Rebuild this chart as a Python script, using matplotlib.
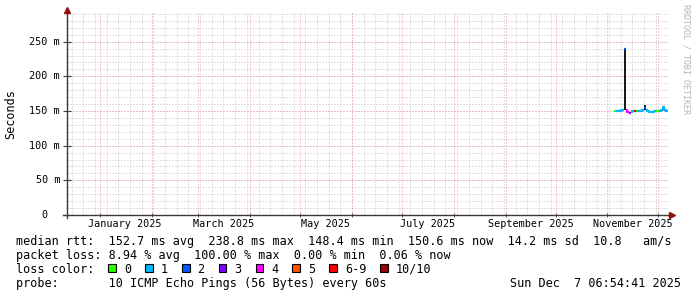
import numpy as np
import pandas as pd
import matplotlib
matplotlib.use('Agg')
import matplotlib.pyplot as plt
import matplotlib.dates as mdates
import matplotlib.transforms as mtransforms
from matplotlib.patches import Rectangle

W, H = 697, 297
MONO = 'DejaVu Sans Mono'

# период графика: последние 360 дней
t_end = pd.Timestamp('2025-12-07 06:54:41')
t_start = t_end - pd.Timedelta(days=360)

# медиана rtt (мс) по дням и класс потерь
days = pd.date_range('2025-11-05', '2025-12-06', freq='D')
median_ms = [149.5, 149.5, 149.5, 150.0, 151.0, 151.5, 240.0, 151.5, 148.0, 147.0,
             148.0, 149.5, 150.0, 150.0, 149.5, 150.0, 150.0, 151.0, 155.0, 151.0,
             149.5, 149.0, 149.0, 149.0, 149.5, 149.5, 150.0, 150.0, 152.0, 156.0,
             151.0, 150.6]
loss_class = [0, 1, 1, 1, 1, 1, 2, 4, 4, 3,
              1, 1, 6, 0, 1, 1, 1, 1, 2, 1,
              1, 1, 1, 1, 1, 0, 0, 1, 1, 1,
              1, 1]

# "дым" (разброс пингов)
smoke_days = ['2025-11-11', '2025-11-23', '2025-12-04']
smoke_lo = [151.0, 152.0, 151.0]
smoke_hi = [240.0, 158.0, 157.0]

loss_labels = ['0', '1', '2', '3', '4', '5', '6-9', '10/10']
loss_colors = ['#26ff00', '#00b8ff', '#0059ff', '#7e00ff', '#ff00ff', '#ff5500', '#ff0000', '#a00000']

y_major = [0, 50, 100, 150, 200, 250]
y_minor = list(range(0, 300, 10))
label_months = ['2025-01-16', '2025-03-16', '2025-05-16', '2025-07-16', '2025-09-16', '2025-11-16']
label_texts = ['January 2025', 'March 2025', 'May 2025', 'July 2025', 'September 2025', 'November 2025']

legend_lines = [
    'median rtt:  152.7 ms avg  238.8 ms max  148.4 ms min  150.6 ms now  14.2 ms sd  10.8   am/s',
    'packet loss: 8.94 % avg  100.00 % max  0.00 % min  0.06 % now',
]
probe_text = 'probe:       10 ICMP Echo Pings (56 Bytes) every 60s'
stamp_text = 'Sun Dec  7 06:54:41 2025'

GRID = '#c4c4c4'
MGRID = '#ec9c9c'
AXIS = '#3a3a3a'
ARROW = '#9a0d0d'

fig = plt.figure(figsize=(W / 100, H / 100), dpi=100)
fig.patch.set_facecolor('white')
ax_h = 201.8
ax = fig.add_axes([67 / W, 82 / H, 601 / W, ax_h / H])
for s in ax.spines.values():
    s.set_visible(False)

x0, x1 = mdates.date2num(t_start), mdates.date2num(t_end)
ax.set_xlim(x0, x1)
ax.set_ylim(0, 291)

# сетка
weeks = pd.date_range(t_start.normalize(), t_end, freq='W-SUN')
months = pd.date_range(t_start.normalize(), t_end, freq='MS')
dots = (0, (1, 2))
for d in weeks:
    ax.axvline(mdates.date2num(d), color=GRID, lw=0.72, ls=dots, zorder=0)
for v in y_minor:
    ax.axhline(v, color=GRID, lw=0.72, ls=dots, zorder=0)
for d in months:
    ax.axvline(mdates.date2num(d), color=MGRID, lw=0.72, ls=dots, zorder=0.5)
for v in y_major[1:]:
    ax.axhline(v, color=MGRID, lw=0.72, ls=dots, zorder=0.5)

# дым
sx = mdates.date2num(pd.to_datetime(smoke_days))
ax.bar(sx, np.array(smoke_hi) - np.array(smoke_lo), bottom=smoke_lo, width=1.2,
       align='edge', color='#1a1a1a', lw=0, zorder=2)

# медиана, раскрашенная по потерям
xs = mdates.date2num(days)
xs = np.append(xs, xs[-1] + 1)
vals = np.append(np.array(median_ms), median_ms[-1])
cls = np.append(np.array(loss_class), loss_class[-1])
for k, c in enumerate(loss_colors):
    y = np.where(cls == k, vals, np.nan)
    if np.all(np.isnan(y)):
        continue
    ax.plot(xs, y, drawstyle='steps-post', color=c, lw=1.6, zorder=3, solid_capstyle='butt')

# подписи осей
ax.set_xticks(mdates.date2num(pd.to_datetime(label_months)))
ax.set_xticklabels(label_texts, fontfamily=MONO, fontsize=7.3)
ax.tick_params(axis='x', which='major', length=0, pad=3)
ax.set_xticks(mdates.date2num(months), minor=True)
ax.tick_params(axis='x', which='minor', direction='inout', length=3, width=0.6, color=AXIS)

ax.set_yticks(y_major)
ax.set_yticklabels([''] * len(y_major))
ax.set_yticks(y_minor, minor=True)
ax.tick_params(axis='y', which='major', direction='inout', length=6, width=0.8, color=AXIS)
ax.tick_params(axis='y', which='minor', direction='inout', length=2, width=0.4, color='#888888')

adv_tick = 0.602 * 7.3 * 100 / 72
ytrans = ax.get_yaxis_transform()
for v in y_major:
    if v == 0:
        tr = mtransforms.offset_copy(ytrans, fig=fig, x=-7 - 2 * adv_tick, y=0, units='dots')
        lab = '0'
    else:
        tr = mtransforms.offset_copy(ytrans, fig=fig, x=-7, y=0, units='dots')
        lab = f'{v} m'
    ax.text(0, v, lab, transform=tr, ha='right', va='center',
            fontfamily=MONO, fontsize=7.3)

# оси со стрелками
ax.plot([0, 0], [-3 / ax_h, 1 + 1 / ax_h], transform=ax.transAxes, color=AXIS, lw=1.0, clip_on=False, zorder=4)
ax.plot([-4 / 601, 1 + 3 / 601], [0, 0], transform=ax.transAxes, color=AXIS, lw=1.0, clip_on=False, zorder=4)
ax.plot([0], [1 + 3 / ax_h], marker='^', ms=4, color=ARROW, transform=ax.transAxes, clip_on=False, zorder=5)
ax.plot([1 + 4 / 601], [0], marker='>', ms=4, color=ARROW, transform=ax.transAxes, clip_on=False, zorder=5)

fig.text(10.5 / W, 1 - 114 / H, 'Seconds', rotation=90, ha='center', va='center',
         fontfamily=MONO, fontsize=8.5)
fig.text(686 / W, 1 - 4 / H, 'RRDTOOL / TOBI OETIKER', rotation=270, ha='center', va='top',
         fontfamily=MONO, fontsize=6, color='#b4b4b4')

# легенда
fs = 8.5
adv = 0.602 * fs * 100 / 72
base = [245.5, 259.2, 272.9, 286.6]
for i, line in enumerate(legend_lines):
    fig.text(16 / W, 1 - base[i] / H, line, fontfamily=MONO, fontsize=fs, va='baseline')

fig.text(16 / W, 1 - base[2] / H, 'loss color:', fontfamily=MONO, fontsize=fs, va='baseline')
cx = 16 + 13 * adv
for lab, c in zip(loss_labels, loss_colors):
    fig.add_artist(Rectangle((cx / W, 1 - 272 / H), 7.5 / W, 8 / H, transform=fig.transFigure,
                             facecolor=c, edgecolor='black', lw=0.8))
    fig.text((cx + 15.5) / W, 1 - base[2] / H, lab, fontfamily=MONO, fontsize=fs, va='baseline')
    cx += 15.5 + (len(lab) + 2) * adv

fig.text(16 / W, 1 - base[3] / H, probe_text, fontfamily=MONO, fontsize=fs, va='baseline')
fig.text(681 / W, 1 - base[3] / H, stamp_text, fontfamily=MONO, fontsize=fs, va='baseline', ha='right')

fig.savefig('out.png', dpi=100)
